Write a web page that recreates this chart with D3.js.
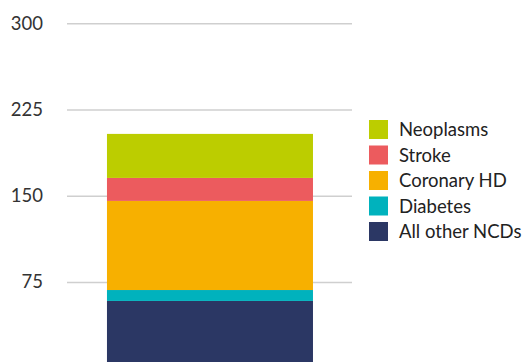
<!DOCTYPE html>
<html><head><meta charset="utf-8">
<script src="https://cdn.jsdelivr.net/npm/d3@7"></script>
<style>
body{margin:0;background:#fff;}
svg{display:block;font-family:Lato, "Open Sans", sans-serif;}
</style></head>
<body><svg id="c" width="526" height="362"></svg>
<script>
const categories = ["All NCDs"];
const seriesNames = ["All other NCDs","Diabetes","Coronary HD","Stroke","Neoplasms"];
const seriesValues = [58.5, 9.5, 77.5, 20, 38.3];
const seriesColors = ["#2b3764","#00b2bd","#f7b000","#ec5b5e","#bccd00"];
const tickValues = [75,150,225,300];

const svg = d3.select("#c");
const y = d3.scaleLinear().domain([0,300]).range([368.2,23.3]);
const x = d3.scaleBand().domain(categories).range([67,352]).paddingInner(0).paddingOuter(0.1917).align(0.506);

const ax = svg.append("g").attr("transform","translate(67,0)")
  .call(d3.axisLeft(y).tickValues(tickValues).tickSize(-285).tickPadding(24).tickFormat(d3.format("d")));
ax.select(".domain").remove();
ax.selectAll(".tick line").attr("stroke","#cfcfcf").attr("stroke-width",1.5);
ax.selectAll(".tick text").attr("fill","#333").style("font-size","18.5px").style("font-family","Lato, sans-serif");

const stackData = [{cat:categories[0]}];
seriesNames.forEach((s,i)=>stackData[0][s]=seriesValues[i]);
const stacked = d3.stack().keys(seriesNames)(stackData);
svg.append("g").selectAll("rect").data(stacked).join("rect")
  .attr("x", d=>x(d[0].data.cat)).attr("width", x.bandwidth())
  .attr("y", d=>y(d[0][1])).attr("height", d=>y(d[0][0])-y(d[0][1]))
  .attr("fill",(d,i)=>seriesColors[i]);

const legendOrder = seriesNames.slice().reverse();
const lg = svg.append("g").attr("transform","translate(369,120)");
const item = lg.selectAll("g").data(legendOrder).join("g").attr("transform",(d,i)=>`translate(0,${i*25.5})`);
item.append("rect").attr("width",19).attr("height",19).attr("fill",d=>seriesColors[seriesNames.indexOf(d)]);
item.append("text").attr("x",30).attr("y",9.5).attr("dy","0.36em").attr("fill","#222")
  .style("font-size","18.5px").text(d=>d);
</script></body></html>
